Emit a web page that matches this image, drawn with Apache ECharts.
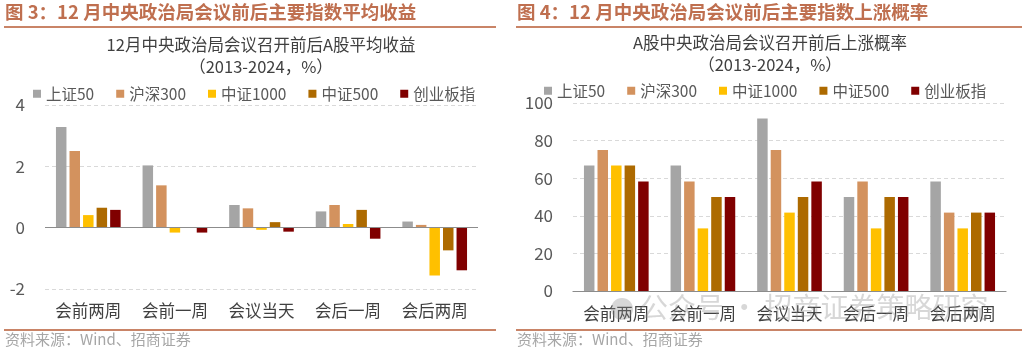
<!DOCTYPE html>
<html>
<head>
<meta charset="utf-8">
<script src="https://cdn.jsdelivr.net/npm/echarts@6/dist/echarts.min.js"></script>
<style>
  html, body { margin: 0; padding: 0; background: #fff; }
  #chart { width: 1024px; height: 352px; }
</style>
</head>
<body>
<div id="chart"></div>
<script>
// 数据
const categories = ['会前两周', '会前一周', '会议当天', '会后一周', '会后两周'];
const seriesNames = ['上证50', '沪深300', '中证1000', '中证500', '创业板指'];
const seriesColors = ['#a5a5a5', '#d3925e', '#ffc000', '#ad6a00', '#800000'];

// 图3：平均收益（%）
const retSZ50 = [3.28, 2.03, 0.74, 0.53, 0.20];
const retHS300 = [2.50, 1.38, 0.63, 0.74, 0.09];
const retZZ1000 = [0.41, -0.16, -0.07, 0.12, -1.56];
const retZZ500 = [0.65, 0.02, 0.18, 0.58, -0.74];
const retCYB = [0.58, -0.16, -0.13, -0.36, -1.39];

// 图4：上涨概率（%）
const upSZ50 = [66.7, 66.7, 91.7, 50.0, 58.3];
const upHS300 = [75.0, 58.3, 75.0, 58.3, 41.7];
const upZZ1000 = [66.7, 33.3, 41.7, 33.3, 33.3];
const upZZ500 = [66.7, 50.0, 50.0, 50.0, 41.7];
const upCYB = [58.3, 50.0, 58.3, 50.0, 41.7];

const leftTicks = [-2, 0, 2, 4];
const rightTicks = [0, 20, 40, 60, 80, 100];

const retData = [retSZ50, retHS300, retZZ1000, retZZ500, retCYB];
const upData = [upSZ50, upHS300, upZZ1000, upZZ500, upCYB];

const FONT = '"Noto Sans CJK SC", "Noto Sans", sans-serif';
const HEAD_COLOR = '#bf6f4f';
const LINE_COLOR = '#c98467';

const chart = echarts.init(document.getElementById('chart'));

const makeSeries = (data, axisIndex) => data.map((vals, i) => {
  const s = {
    name: seriesNames[i],
    type: 'bar',
    xAxisIndex: axisIndex,
    yAxisIndex: axisIndex,
    data: vals,
    barWidth: 10.5,
    barGap: '29%',
    itemStyle: { color: seriesColors[i] },
  };
  // 左图零线
  if (axisIndex === 0 && i === 0) {
    s.markLine = {
      silent: true,
      symbol: 'none',
      label: { show: false },
      lineStyle: { color: '#8c8c8c', type: 'solid', width: 1.2 },
      data: [{ yAxis: 0 }],
    };
  }
  return s;
});

const legendBase = {
  icon: 'rect',
  itemWidth: 8,
  itemHeight: 8,
  itemGap: 22,
  textStyle: { fontFamily: FONT, fontSize: 15.5, color: '#595959' },
  data: seriesNames,
};

const option = {
  animation: false,
  legend: [
    Object.assign({}, legendBase, { left: 28, top: 81 }),
    Object.assign({}, legendBase, { left: 539, top: 78 }),
  ],
  grid: [
    { left: 45, right: 546, top: 105, bottom: 63 },
    { left: 573, right: 18, top: 103, bottom: 61 },
  ],
  xAxis: [0, 1].map(idx => ({
    type: 'category',
    gridIndex: idx,
    data: categories,
    axisLine: {
      show: idx === 1,
      onZero: idx === 1,
      lineStyle: { color: '#8c8c8c', width: 1.2 },
    },
    axisTick: { show: false },
    axisLabel: {
      margin: idx === 0 ? 13 : 14,
      fontFamily: FONT,
      fontSize: 16.5,
      color: '#404040',
    },
  })),
  yAxis: [
    {
      type: 'value',
      gridIndex: 0,
      min: leftTicks[0],
      max: leftTicks[leftTicks.length - 1],
      interval: 2,
      axisLine: { show: false },
      axisTick: { show: false },
      axisLabel: { margin: 20, fontFamily: FONT, fontSize: 17, color: '#595959' },
      splitLine: { lineStyle: { color: '#d9d9d9', type: [4, 3] } },
    },
    {
      type: 'value',
      gridIndex: 1,
      min: rightTicks[0],
      max: rightTicks[rightTicks.length - 1],
      interval: 20,
      axisLine: { show: false },
      axisTick: { show: false },
      axisLabel: { margin: 20, fontFamily: FONT, fontSize: 17, color: '#595959' },
      splitLine: { lineStyle: { color: '#d9d9d9', type: [4, 3] } },
    },
  ],
  series: makeSeries(retData, 0).concat(makeSeries(upData, 1)),
  graphic: [
    // 标题栏
    { type: 'text', left: 5, top: 3, style: { text: '图 3：12 月中央政治局会议前后主要指数平均收益', fontFamily: FONT, fontSize: 18.5, fontWeight: 'bold', fill: HEAD_COLOR } },
    { type: 'text', left: 517, top: 3, style: { text: '图 4：12 月中央政治局会议前后主要指数上涨概率', fontFamily: FONT, fontSize: 18.5, fontWeight: 'bold', fill: HEAD_COLOR } },
    { type: 'rect', shape: { x: 4, y: 26, width: 492, height: 2 }, style: { fill: LINE_COLOR } },
    { type: 'rect', shape: { x: 516, y: 26, width: 506, height: 2 }, style: { fill: LINE_COLOR } },
    // 图表标题
    { type: 'text', x: 261, y: 36, style: { text: '12月中央政治局会议召开前后A股平均收益', align: 'center', fontFamily: FONT, fontSize: 16.5, fill: '#404040' } },
    { type: 'text', x: 261, y: 58, style: { text: '（2013-2024，%）', align: 'center', fontFamily: FONT, fontSize: 16.5, fill: '#404040' } },
    { type: 'text', x: 770, y: 34, style: { text: 'A股中央政治局会议召开前后上涨概率', align: 'center', fontFamily: FONT, fontSize: 16.5, fill: '#404040' } },
    { type: 'text', x: 770, y: 56, style: { text: '（2013-2024，%）', align: 'center', fontFamily: FONT, fontSize: 16.5, fill: '#404040' } },
    // 底线和资料来源
    { type: 'rect', shape: { x: 4, y: 329, width: 492, height: 2 }, style: { fill: LINE_COLOR } },
    { type: 'rect', shape: { x: 516, y: 329, width: 506, height: 2 }, style: { fill: LINE_COLOR } },
    { type: 'text', left: 5, top: 332, style: { text: '资料来源：Wind、招商证券', fontFamily: FONT, fontSize: 15, fill: '#a6a6a6' } },
    { type: 'text', left: 517, top: 332, style: { text: '资料来源：Wind、招商证券', fontFamily: FONT, fontSize: 15, fill: '#a6a6a6' } },
    // 水印
    { type: 'circle', shape: { cx: 622, cy: 309, r: 11 }, style: { fill: 'rgba(140,140,140,0.35)' }, z: 100 },
    { type: 'text', left: 640, top: 293, z: 100, style: { text: '公众号 · 招商证券策略研究', fontFamily: FONT, fontSize: 28, fill: 'rgba(140,140,140,0.35)' } },
  ],
};

chart.setOption(option);
window.addEventListener('resize', () => chart.resize());
</script>
</body>
</html>
